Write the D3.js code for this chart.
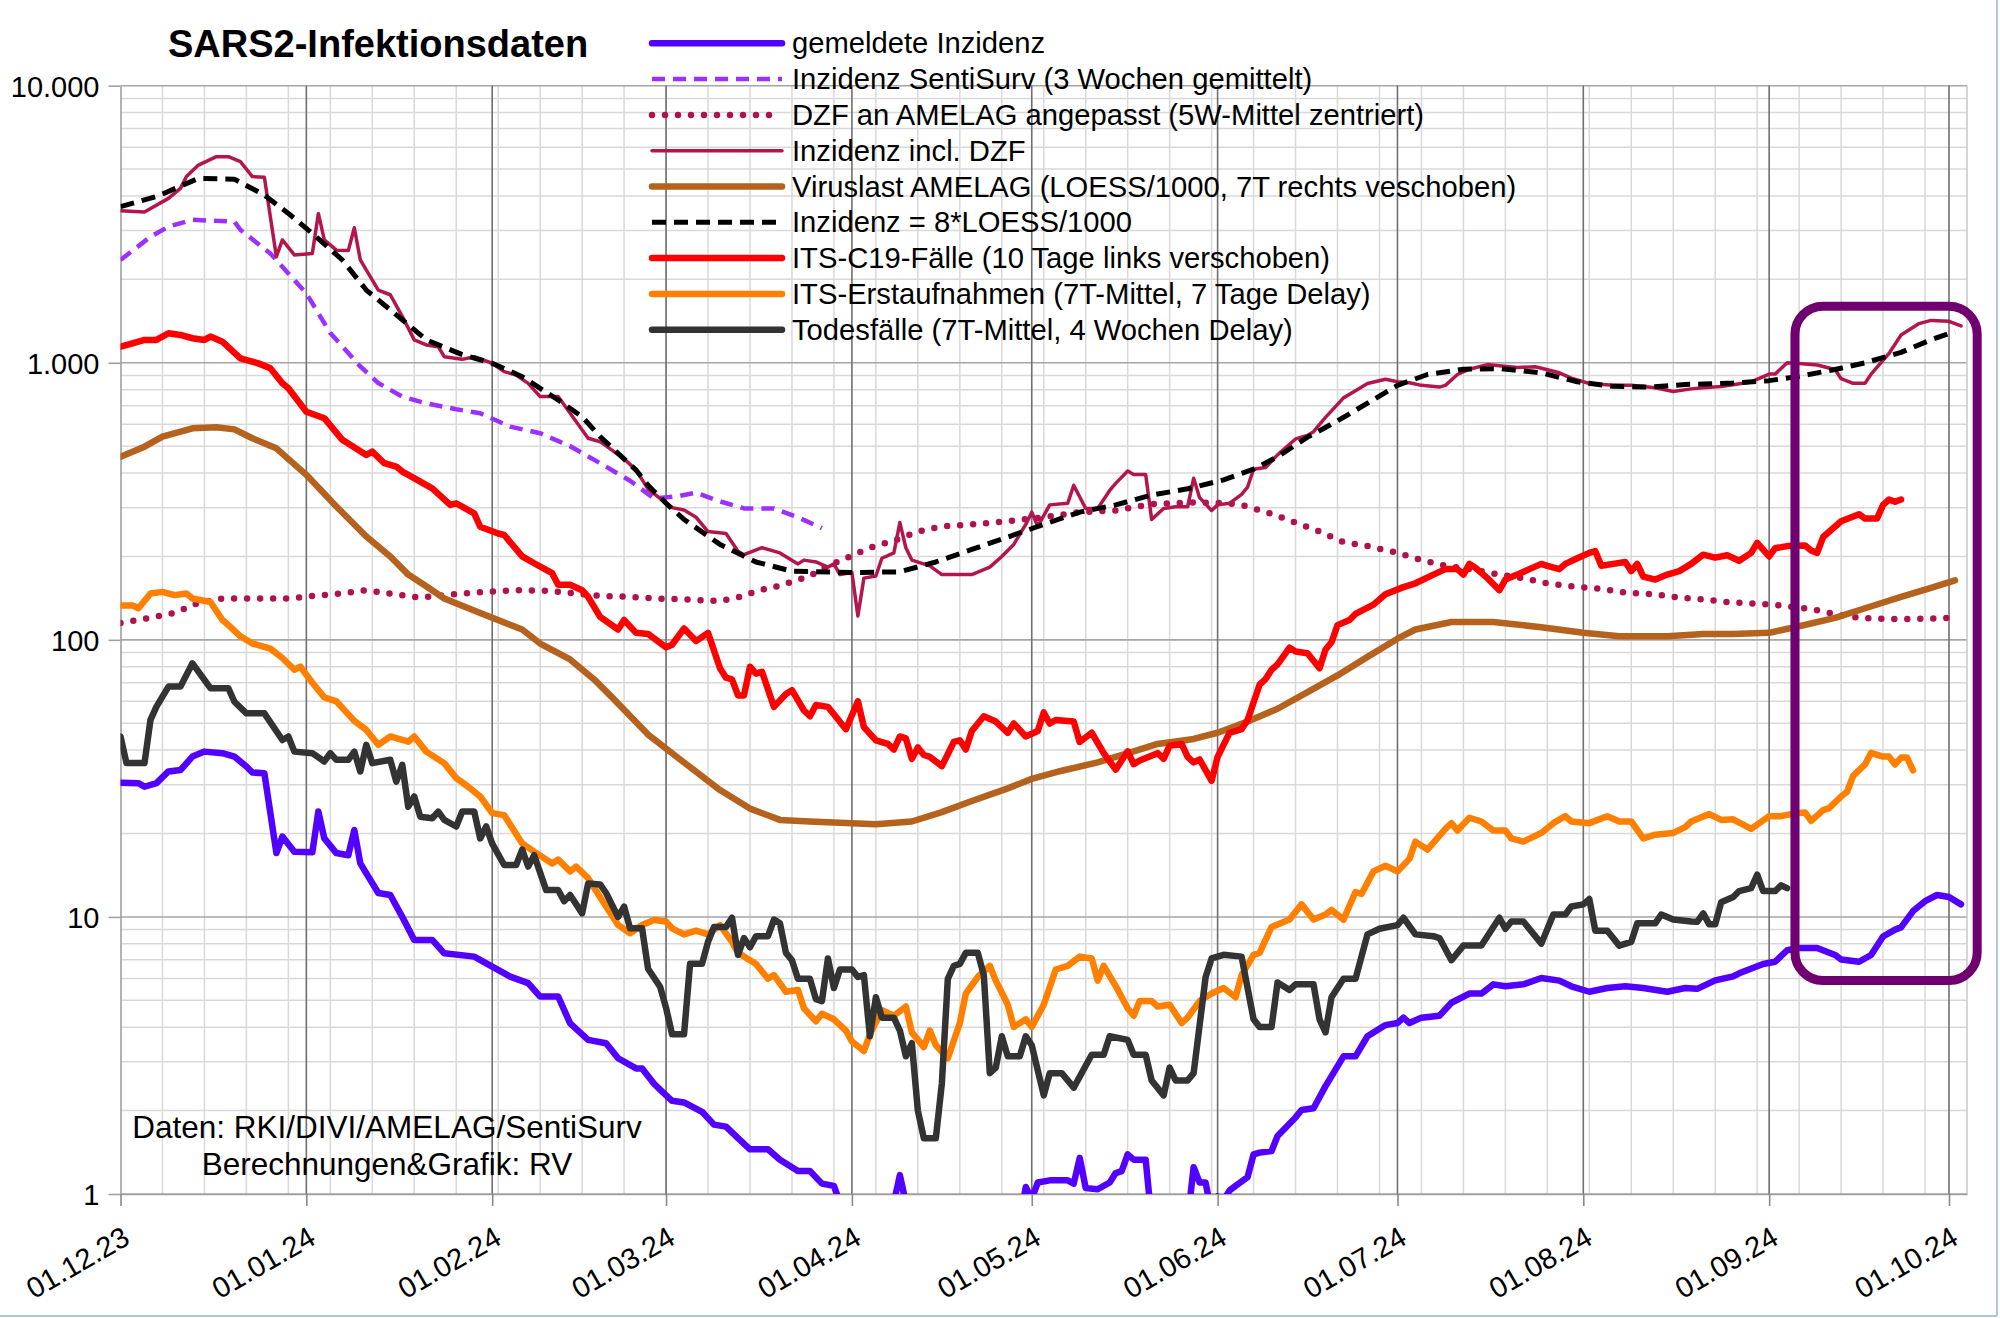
<!DOCTYPE html>
<html><head><meta charset="utf-8">
<script src="https://cdn.jsdelivr.net/npm/d3@7"></script>
<style>
html,body{margin:0;padding:0;background:#fff;}
svg{display:block;}
text{font-family:"Liberation Sans",Arial,Helvetica,sans-serif;fill:#000;}
</style></head><body>
<svg id="chart" width="2000" height="1318"></svg>
<script>
// ---------- data (day = days after 01.12.2023) ----------
const startDate = "2023-12-01";
const endDate = "2024-10-04";
const xTickDates = ["2023-12-01","2024-01-01","2024-02-01","2024-03-01","2024-04-01","2024-05-01","2024-06-01","2024-07-01","2024-08-01","2024-09-01","2024-10-01"];
const xTickLabels = ["01.12.23","01.01.24","01.02.24","01.03.24","01.04.24","01.05.24","01.06.24","01.07.24","01.08.24","01.09.24","01.10.24"];
const yTickValues = [1,10,100,1000,10000];
const yTickLabels = ["1","10","100","1.000","10.000"];
const chartTitle = "SARS2-Infektionsdaten";
const creditLines = ["Daten: RKI/DIVI/AMELAG/SentiSurv","Berechnungen&Grafik: RV"];
const seriesNames = [
  "gemeldete Inzidenz",
  "Inzidenz SentiSurv (3 Wochen gemittelt)",
  "DZF an AMELAG angepasst (5W-Mittel zentriert)",
  "Inzidenz incl. DZF",
  "Viruslast AMELAG (LOESS/1000, 7T rechts veschoben)",
  "Inzidenz = 8*LOESS/1000",
  "ITS-C19-Fälle (10 Tage links verschoben)",
  "ITS-Erstaufnahmen (7T-Mittel, 7 Tage Delay)",
  "Todesfälle (7T-Mittel, 4 Wochen Delay)"
];
// highlighted period (days) and value band
const highlightDays = [279.3, 309.7];
const highlightValues = [5.9, 1600];

const gemeldeteInzidenz = [[0,30.5],[3,30.4],[4,29.5],[6,30.4],[8,33.5],[10,33.9],[12,37.9],[14,39.5],[17,39],[19,37.9],[21,34.9],[22,33.2],[24,33],[26,17],[27,19.5],[29,17.2],[32,17.1],[33,24],[34,19.2],[36,17],[38,16.7],[39,20.6],[40,15.6],[43,12.2],[45,12],[47,10],[49,8.26],[52,8.26],[54,7.39],[59,7.19],[62,6.62],[65,6.09],[68,5.77],[70,5.16],[73,5.16],[75,4.13],[78,3.6],[81,3.5],[83,3.09],[86,2.84],[87,2.84],[89,2.5],[90,2.38],[92,2.17],[94,2.14],[97,1.98],[99,1.78],[101,1.75],[103,1.59],[105,1.45],[108,1.45],[110,1.33],[113,1.21],[115,1.21],[117,1.09],[119,1.07],[120,0.93],[121,0.8],[128,0.8],[129,0.93],[130,1.17],[131,0.93],[132,0.8],[150,0.8],[151,1.06],[152,0.96],[153,1.1],[155,1.12],[158,1.12],[159,1.09],[160,1.35],[161,1.05],[163,1.04],[165,1.1],[166,1.19],[167,1.21],[168,1.39],[169,1.33],[171,1.33],[172,0.8],[178,0.8],[179,1.25],[180,1.1],[181,1.1],[182,0.85],[183,0.98],[184,0.95],[185,1.03],[186,1.07],[188,1.15],[189,1.39],[190,1.41],[192,1.43],[193,1.62],[196,1.89],[197,2.01],[199,2.04],[201,2.45],[204,3.14],[206,3.14],[208,3.71],[211,4.07],[213,4.14],[214,4.33],[215,4.14],[217,4.33],[220,4.4],[222,4.9],[225,5.29],[227,5.29],[229,5.71],[231,5.62],[234,5.71],[237,6.02],[240,5.89],[242,5.62],[245,5.37],[248,5.54],[251,5.62],[254,5.54],[258,5.37],[261,5.54],[263,5.5],[266,5.9],[269,6.1],[270,6.26],[274,6.76],[276,6.89],[278,7.58],[280,7.72],[283,7.72],[286,7.29],[287,7.02],[290,6.89],[292,7.29],[294,8.5],[296,9.0],[297,9.17],[299,10.5],[301,11.4],[303,12.0],[305,11.8],[307,11.1]];

const inzidenzSentiSurv = [[0,2350],[5,2850],[8,3100],[12,3280],[19,3230],[20,3020],[25,2480],[31,1780],[35,1280],[40,970],[43,845],[47,755],[51,714],[56,680],[60,657],[65,588],[70,557],[75,500],[80,434],[85,375],[89,324],[93,330],[96,340],[100,316],[104,298],[109,298],[113,277],[117,253]];

const dzfAngepasst = [[0,115],[4,119],[9,125],[13,136],[17,141],[23,141],[28,141],[32,144],[37,147],[41,151],[45,147],[50,142],[54,145],[59,148],[63,150],[67,151],[72,150],[76,147],[80,144],[85,143],[89,141],[94,140],[100,138],[104,144],[106,150],[110,157],[115,170],[118,185],[121,197],[125,215],[129,228],[133,246],[137,257],[142,261],[148,268],[154,277],[160,289],[166,293],[172,309],[178,313],[184,312],[187,307],[192,285],[196,265],[200,246],[204,225],[208,218],[213,206],[217,194],[221,185],[225,180],[230,172],[234,167],[238,160],[243,155],[247,153],[251,148],[256,146],[260,142],[264,140],[268,137],[273,135],[277,133],[282,129],[286,124],[290,120],[295,119],[299,119],[306,120]];

const inzidenzInclDZF = [[0,3540],[4,3500],[8,3920],[10,4260],[11,4700],[13,5170],[16,5545],[18,5545],[20,5320],[22,4700],[24,4670],[26,2415],[27,2775],[29,2450],[32,2480],[33,3460],[34,2775],[36,2550],[38,2540],[39,3070],[40,2350],[43,1830],[45,1760],[47,1470],[49,1210],[51,1160],[53,1143],[54,1052],[57,1029],[59,1052],[62,996],[64,929],[66,903],[68,843],[70,755],[73,755],[75,657],[78,534],[80,519],[84,450],[86,410],[88,350],[92,300],[94,294],[96,277],[98,246],[101,242],[103,209],[104,203],[107,215],[110,206],[113,188],[114,194],[116,191],[118,183],[119,188],[120,172],[122,175],[123,122],[124,167],[126,170],[127,197],[129,206],[130,265],[131,215],[132,194],[135,185],[137,172],[142,172],[145,183],[147,200],[149,221],[151,261],[152,289],[153,257],[155,307],[158,311],[159,361],[161,298],[163,298],[165,346],[166,367],[168,407],[169,395],[171,395],[172,272],[174,298],[176,302],[178,302],[179,383],[180,326],[182,293],[183,307],[185,311],[187,335],[188,356],[189,413],[191,419],[193,465],[196,531],[198,547],[199,564],[201,635],[204,747],[206,793],[208,842],[211,872],[213,854],[215,847],[217,829],[220,817],[221,829],[223,907],[225,948],[228,985],[230,976],[233,962],[236,968],[240,920],[242,880],[245,842],[249,829],[252,829],[256,812],[259,788],[262,805],[264,812],[267,821],[272,853],[275,910],[276,910],[278,1001],[280,994],[283,982],[286,946],[287,876],[289,843],[291,843],[292,910],[295,1081],[297,1259],[300,1385],[302,1422],[305,1411],[307,1359]];

const viruslastAmelag = [[0,458],[4,498],[7,541],[12,580],[16,585],[19,575],[22,534],[26,491],[31,394],[36,303],[41,236],[45,200],[48,172],[51,156],[54,141],[60,125],[67,109],[70,97],[75,85],[79,72],[82,62],[88,45.5],[94,36.1],[100,28.7],[105,24.6],[110,22.4],[115,22.1],[122,21.8],[126,21.6],[132,22.1],[137,23.9],[142,26.2],[148,29.1],[152,31.5],[157,33.7],[163,36.1],[169,39.6],[173,42.1],[179,43.9],[183,46.2],[188,50.7],[193,56.4],[198,64.8],[203,74.4],[208,86.8],[213,101],[216,109],[222,116],[229,116],[237,111],[244,106],[250,103],[258,103],[264,105],[269,105],[275,106],[280,112],[286,120],[291,130],[297,143],[302,154],[306,164]];

const inzidenzLoess = [[0,3660],[6,3980],[13,4630],[19,4600],[24,4030],[28,3460],[32,2930],[37,2350],[41,1830],[47,1430],[51,1210],[57,1070],[62,996],[67,891],[73,734],[77,639],[80,541],[86,410],[88,361],[91,311],[94,272],[100,221],[106,191],[112,177],[122,175],[130,176],[136,191],[142,212],[148,235],[154,261],[160,289],[166,307],[172,333],[178,351],[184,378],[189,413],[193,458],[198,539],[203,617],[208,715],[213,829],[218,907],[224,948],[230,953],[237,920],[243,854],[249,822],[255,817],[261,835],[264,838],[269,845],[275,862],[280,893],[286,946],[291,1000],[297,1090],[302,1211],[306,1298]];

const itsC19 = [[0,1143],[2,1176],[4,1209],[6,1209],[8,1278],[10,1260],[12,1226],[14,1209],[15,1243],[17,1192],[20,1038],[23,995],[25,955],[27,843],[28,809],[31,666],[34,631],[37,527],[41,465],[42,478],[44,434],[46,422],[47,405],[48,394],[52,352],[55,307],[56,311],[59,286],[60,256],[63,242],[64,239],[67,200],[69,189],[72,174],[73,158],[75,158],[77,151],[78,143],[80,121],[83,109],[84,118],[86,106],[88,105],[91,94],[92,96],[94,110],[96,99],[98,106],[100,79],[101,73],[102,72],[103,63],[104,63],[105,80],[106,75.5],[107,76.7],[109,57.3],[111,63.8],[112,65.8],[114,55.6],[115,53],[116,58.2],[118,57.3],[119,53.9],[121,47.6],[123,60],[124,48.4],[126,43.4],[128,42.1],[129,40.2],[130,44.8],[131,44.1],[132,37.2],[133,40.9],[134,38.4],[135,37.8],[137,35],[139,42.8],[140,43.4],[141,40.2],[142,46.9],[144,53],[146,50.7],[148,46.2],[149,49.9],[151,44.8],[153,46.9],[154,54.7],[155,49.9],[156,51.4],[159,50.7],[160,42.8],[162,46.2],[164,39],[166,34],[168,39.6],[169,35.6],[170,36.7],[173,39],[174,37.2],[175,41.5],[177,42.1],[178,37.8],[179,36.1],[180,37],[182,31],[183,37.8],[185,46.2],[187,47.6],[188,51.4],[190,68.9],[191,72.2],[192,78],[193,81.6],[195,93.7],[196,90.8],[198,89.5],[200,79],[201,92.3],[202,98],[203,113],[205,118],[206,124],[209,134],[211,146],[214,155],[216,160],[219,172],[221,180],[223,180],[224,172],[225,188],[226,182],[228,167],[230,151],[231,165],[233,172],[235,180],[237,188],[238,185],[240,180],[241,188],[243,197],[245,206],[246,209],[247,185],[249,188],[251,191],[252,177],[253,188],[254,169],[256,165],[258,172],[260,177],[262,188],[264,203],[266,198],[268,202],[270,193],[272,206],[273,224],[275,200],[276,214],[278,218],[281,219],[282,210],[283,206],[284,235],[287,268],[290,284],[291,274],[293,274],[294,307],[295,321],[296,315],[297,321]];

const itsErstaufnahmen = [[0,133],[2,133],[3,130],[5,147],[7,149],[9,145],[11,147],[12,141],[15,137],[17,118],[18,113],[20,103],[22,97],[25,93],[27,86],[29,78],[30,80],[32,70],[34,62],[36,60],[39,51],[41,47.3],[43,41.8],[45,44.8],[48,42.9],[49,44.8],[51,39.5],[54,35.9],[56,31.7],[58,29.5],[60,27.2],[62,23.7],[64,23.3],[67,18.4],[69,17.2],[72,15.6],[73,16.1],[75,14.6],[76,15.2],[78,13.8],[81,10.9],[83,9.36],[85,8.73],[87,9.36],[89,9.75],[91,9.62],[92,9.1],[94,8.65],[96,8.92],[98,8.65],[100,9.34],[102,8.13],[103,7.42],[106,6.76],[108,5.98],[109,6.17],[111,5.37],[113,5.45],[114,4.68],[116,4.2],[117,4.47],[119,4.27],[121,3.89],[122,3.55],[124,3.28],[125,3.77],[127,4.61],[129,4.4],[131,4.75],[132,3.83],[134,3.39],[135,3.89],[136,3.44],[138,3.09],[140,4.14],[141,5.29],[143,6.07],[145,6.66],[146,5.89],[148,4.82],[149,4.01],[151,4.27],[152,4.01],[154,4.82],[156,6.46],[158,6.66],[160,7.19],[162,7.08],[163,5.89],[164,6.66],[166,5.63],[168,4.68],[169,4.4],[170,4.97],[172,4.97],[173,4.75],[175,4.82],[177,4.14],[178,4.33],[180,4.97],[182,5.29],[184,5.54],[186,5.13],[187,6.17],[189,7.3],[190,7.42],[192,9.2],[195,9.78],[197,11.1],[199,9.78],[201,10.2],[202,10.6],[204,9.78],[206,12.3],[207,12.1],[209,14.6],[211,15.3],[213,14.6],[215,16.2],[216,18.7],[218,17.5],[221,20.8],[222,21.8],[223,20.5],[225,22.8],[227,22.1],[229,20.5],[231,20.5],[232,19.2],[234,18.7],[237,20.1],[239,21.8],[241,23.1],[242,22.1],[245,21.8],[248,23.1],[250,22.1],[252,22.1],[254,19.2],[256,19.8],[259,20.1],[261,21.1],[262,22.1],[265,23.5],[267,22.4],[269,22.5],[272,20.8],[275,23.1],[277,23.1],[279,23.6],[281,23.8],[282,22.2],[284,24.3],[285,24.7],[287,27.2],[288,28.3],[289,32.3],[291,35.5],[292,39.1],[294,37.9],[295,37.9],[296,35.5],[297,37.6],[298,37.6],[299,33.8]];

const todesfaelle = [[0,44.8],[1,35.9],[4,35.9],[5,51.4],[6,57.4],[8,67.8],[10,67.8],[12,82.3],[15,66.9],[18,66.9],[19,59.8],[21,54.3],[24,54.3],[27,43.5],[28,44.8],[29,39.5],[32,39],[34,36.4],[35,39],[36,36.9],[38,36.9],[39,39.5],[40,33.5],[41,41.8],[42,35.9],[45,36.9],[46,30.8],[47,35.4],[48,25],[49,27.2],[50,23],[52,22.7],[53,24],[54,22.4],[56,21.2],[57,24],[59,24],[60,19.2],[61,21.2],[62,18.4],[64,15.4],[66,15.4],[67,17.5],[68,15.2],[69,16.7],[71,12.5],[73,12.5],[74,11.4],[75,12],[77,10.3],[78,13.2],[80,13.1],[81,12.2],[83,10],[84,10.9],[85,9.1],[87,9.1],[88,6.5],[90,5.6],[91,4.7],[92,3.77],[94,3.77],[95,6.77],[97,6.77],[98,8.13],[99,9.2],[101,9.2],[102,9.93],[103,7.3],[104,8.39],[105,7.77],[106,8.52],[108,8.52],[109,9.78],[110,9.48],[111,7.42],[112,6.98],[113,5.98],[115,5.98],[116,5.05],[117,4.97],[118,7.08],[119,5.54],[120,6.46],[122,6.46],[123,6.07],[124,6.17],[125,3.71],[126,5.13],[127,4.33],[129,4.33],[130,3.89],[131,3.14],[132,3.5],[133,2.0],[134,1.59],[136,1.59],[137,2.5],[138,5.98],[139,6.66],[140,6.77],[141,7.42],[143,7.42],[144,6.17],[145,2.73],[146,2.86],[147,3.71],[148,3.14],[150,3.14],[151,3.71],[152,3.44],[154,2.27],[155,2.73],[157,2.73],[159,2.42],[162,3.18],[164,3.18],[165,3.71],[168,3.6],[169,3.18],[171,3.18],[172,2.57],[174,2.27],[175,2.86],[176,2.57],[178,2.57],[179,2.73],[181,6.07],[182,7.08],[184,7.3],[187,7.19],[189,4.27],[190,4.01],[192,4.01],[193,5.8],[195,5.45],[196,5.71],[199,5.71],[200,4.27],[201,3.83],[202,5.13],[204,5.98],[206,5.98],[208,8.65],[210,9.06],[213,9.34],[214,9.93],[216,8.65],[219,8.52],[220,8.39],[222,6.98],[224,7.88],[227,7.88],[230,9.93],[231,9.06],[232,9.63],[234,9.63],[237,8.01],[239,10.2],[241,10.2],[242,10.9],[244,11.1],[245,11.6],[246,8.92],[248,8.92],[250,7.88],[252,8.13],[253,9.48],[256,9.48],[257,10.2],[259,9.78],[262,9.63],[263,9.6],[264,10.3],[265,9.4],[266,9.4],[267,11.3],[269,11.8],[270,12.4],[272,12.7],[273,14.2],[274,12.4],[276,12.4],[277,13],[278,12.7]];

// ---------- styles ----------
const seriesStyles = [
  {data: gemeldeteInzidenz, color: "#5200ff", width: 6.5, dash: null, cap: "round"},
  {data: inzidenzSentiSurv, color: "#9b30ff", width: 4.5, dash: "13 8", cap: "butt"},
  {data: dzfAngepasst,      color: "#b0124f", width: 6.5, dash: "0 13", cap: "round"},
  {data: inzidenzInclDZF,   color: "#b3164f", width: 3.5, dash: null, cap: "round"},
  {data: viruslastAmelag,   color: "#b5621e", width: 6.5, dash: null, cap: "round"},
  {data: inzidenzLoess,     color: "#000000", width: 5,   dash: "14 8", cap: "butt"},
  {data: itsC19,            color: "#ff0000", width: 6.5, dash: null, cap: "round"},
  {data: itsErstaufnahmen,  color: "#ff8000", width: 6.5, dash: null, cap: "round"},
  {data: todesfaelle,       color: "#333333", width: 6.5, dash: null, cap: "round"}
];

// ---------- layout ----------
const plotLeft = 120.5, plotRight = 1967, plotTop = 85.7, plotBottom = 1194;
const start = d3.utcParse("%Y-%m-%d")(startDate);
const end = d3.utcParse("%Y-%m-%d")(endDate);
const dayToDate = d => new Date(start.getTime() + d * 864e5);

const x = d3.scaleUtc().domain([start, end]).range([plotLeft, plotRight]);
const y = d3.scaleLog().domain([1, 10000]).range([plotBottom, plotTop]);

const svg = d3.select("#chart");
svg.append("rect").attr("width",2000).attr("height",1318).attr("fill","#fff");

// frame of the picture
svg.append("line").attr("x1",1997).attr("x2",1997).attr("y1",0).attr("y2",1316).attr("stroke","#b3c3dc").attr("stroke-width",2);
svg.append("line").attr("x1",0).attr("x2",1997).attr("y1",1316).attr("y2",1316).attr("stroke","#b3c3dc").attr("stroke-width",2);

const grid = svg.append("g");
// minor vertical (weekly)
const weekDates = d3.utcDay.range(start, d3.utcDay.offset(end, 1), 1).filter((d,i)=> i % 7 === 0 && i > 0);
grid.selectAll("line.wk").data(weekDates).join("line")
  .attr("x1", d=>x(d)).attr("x2", d=>x(d)).attr("y1", plotTop).attr("y2", plotBottom)
  .attr("stroke","#d9d9d9").attr("stroke-width",1.5);
// minor horizontal (log)
const minorVals = [];
for (let k=0;k<4;k++) for (let m=2;m<=9;m++) minorVals.push(m*Math.pow(10,k));
grid.selectAll("line.mh").data(minorVals).join("line")
  .attr("x1", plotLeft).attr("x2", plotRight).attr("y1", d=>y(d)).attr("y2", d=>y(d))
  .attr("stroke","#d9d9d9").attr("stroke-width",1.5);
// major horizontal
grid.selectAll("line.Mh").data(yTickValues).join("line")
  .attr("x1", plotLeft).attr("x2", plotRight).attr("y1", d=>y(d)).attr("y2", d=>y(d))
  .attr("stroke","#a6a6a6").attr("stroke-width",1.6);
// major vertical (months)
const monthDates = xTickDates.map(d3.utcParse("%Y-%m-%d"));
grid.selectAll("line.Mv").data(monthDates.slice(1)).join("line")
  .attr("x1", d=>x(d)).attr("x2", d=>x(d)).attr("y1", plotTop).attr("y2", plotBottom)
  .attr("stroke","#707070").attr("stroke-width",1.6);
// right edge line
grid.append("line").attr("x1",plotRight).attr("x2",plotRight).attr("y1",plotTop).attr("y2",plotBottom)
  .attr("stroke","#d0d0d0").attr("stroke-width",1.5);

// axes
const yAxis = d3.axisLeft(y).tickValues(yTickValues).tickFormat((d,i)=>yTickLabels[i]).tickSize(12).tickSizeOuter(0).tickPadding(9);
const gy = svg.append("g").attr("transform",`translate(${plotLeft},0)`).call(yAxis);
gy.select(".domain").attr("stroke","#a0a0a0").attr("stroke-width",1.6);
gy.selectAll(".tick line").attr("stroke","#a0a0a0").attr("stroke-width",1.6);
gy.selectAll(".tick text").attr("font-size",29).attr("dy","0.37em").style("font-family",'"Liberation Sans",Arial,sans-serif');

const xAxis = d3.axisBottom(x).tickValues(monthDates).tickFormat((d,i)=>xTickLabels[i]).tickSize(12).tickSizeOuter(0);
const gx = svg.append("g").attr("transform",`translate(0,${plotBottom})`).call(xAxis);
gx.select(".domain").attr("stroke","#a0a0a0").attr("stroke-width",1.6);
gx.selectAll(".tick line").attr("stroke","#8a8a8a").attr("stroke-width",1.6);
gx.selectAll(".tick text").attr("font-size",29).attr("x",0).attr("y",0).attr("dy",0)
  .attr("transform","translate(10.5,49) rotate(-30)").style("text-anchor","end")
  .style("font-family",'"Liberation Sans",Arial,sans-serif');

// clip
svg.append("clipPath").attr("id","plotclip").append("rect")
  .attr("x",plotLeft).attr("y",plotTop-10).attr("width",plotRight-plotLeft+20).attr("height",plotBottom-plotTop+10);

const line = d3.line().x(d=>x(dayToDate(d[0]))).y(d=>y(d[1])).curve(d3.curveLinear);
const series = svg.append("g").attr("clip-path","url(#plotclip)");
seriesStyles.forEach(s=>{
  series.append("path").datum(s.data).attr("d", line)
    .attr("fill","none").attr("stroke", s.color).attr("stroke-width", s.width)
    .attr("stroke-linejoin","round").attr("stroke-linecap", s.cap)
    .attr("stroke-dasharray", s.dash);
});

// title
svg.append("text").attr("x",168).attr("y",57).attr("font-size",38).attr("font-weight","bold").text(chartTitle);

// legend
const legend = svg.append("g");
seriesStyles.forEach((s,i)=>{
  const ly = 43.3 + i*35.8;
  legend.append("line").attr("x1",652).attr("x2",782).attr("y1",ly).attr("y2",ly)
    .attr("stroke",s.color).attr("stroke-width",s.width).attr("stroke-linecap",s.cap)
    .attr("stroke-dasharray",s.dash);
  legend.append("text").attr("x",792).attr("y",ly+10).attr("font-size",29.2).text(seriesNames[i]);
});

// credits
creditLines.forEach((t,i)=>{
  svg.append("text").attr("x",387).attr("y",1138+i*37).attr("font-size",31.5)
    .attr("text-anchor","middle").text(t);
});

// highlight box
const hx0 = x(dayToDate(highlightDays[0])), hx1 = x(dayToDate(highlightDays[1]));
const hy0 = y(highlightValues[1]), hy1 = y(highlightValues[0]);
svg.append("rect").attr("x",hx0).attr("y",hy0).attr("width",hx1-hx0).attr("height",hy1-hy0)
  .attr("rx",28).attr("ry",28).attr("fill","none").attr("stroke","#700070").attr("stroke-width",9);
</script>
</body></html>
